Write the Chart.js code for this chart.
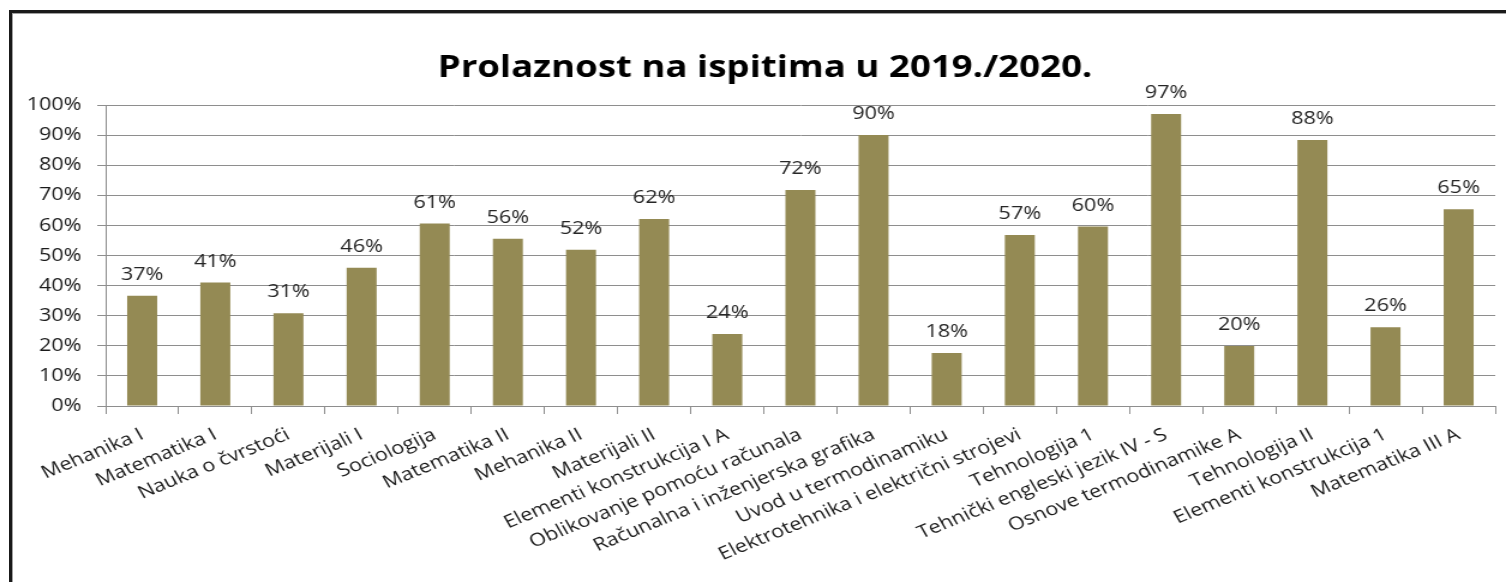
<!DOCTYPE html>
<html>
<head>
<meta charset="utf-8">
<script src="https://cdn.jsdelivr.net/npm/chart.js@4"></script>
<style>
html,body{margin:0;padding:0;background:#fff;overflow:hidden;}
#wrap{position:relative;width:1506px;height:582px;overflow:hidden;background:#fff;}
#stretch{position:absolute;left:0;top:0;width:1255px;height:582px;transform:scaleX(1.2);transform-origin:0 0;}
#frame{position:absolute;left:9px;top:10px;width:1520px;height:600px;border-left:3px solid #1a1a1a;border-top:3px solid #1a1a1a;pointer-events:none;}
#frame2{position:absolute;left:12px;top:13px;width:1520px;height:600px;border-left:1px solid #a0a0a0;border-top:1px solid #a0a0a0;pointer-events:none;}
</style>
</head>
<body>
<div id="wrap">
  <div id="stretch"><canvas id="c" width="1255" height="582"></canvas></div>
  <div id="frame"></div>
  <div id="frame2"></div>
</div>
<script>
const chartTitle = 'Prolaznost na ispitima u 2019./2020.';
const categories = ['Mehanika I','Matematika I','Nauka o čvrstoći','Materijali I','Sociologija','Matematika II','Mehanika II','Materijali II','Elementi konstrukcija I A','Oblikovanje pomoću računala','Računalna i inženjerska grafika','Uvod u termodinamiku','Elektrotehnika i električni strojevi','Tehnologija 1','Tehnički engleski jezik IV - S','Osnove termodinamike A','Tehnologija II','Elementi konstrukcija 1','Matematika III A'];
const passRate = [36.6, 41.0, 30.8, 45.9, 60.6, 55.6, 51.9, 62.1, 23.9, 71.8, 90.0, 17.6, 56.8, 59.6, 97.0, 19.9, 88.4, 26.2, 65.4];
const yTicks = [0,10,20,30,40,50,60,70,80,90,100];

const gridCol = '#8e8e8e';
const font = "'Open Sans', sans-serif";

const titlePlugin = {
  id:'titleText',
  afterDraw(chart){
    const ctx = chart.ctx;
    ctx.save();
    ctx.font = "bold 30.5px " + font;
    ctx.fillStyle = '#000';
    ctx.textAlign = 'center';
    ctx.textBaseline = 'alphabetic';
    ctx.fillText(chartTitle, 637.5, 77);
    ctx.restore();
  }
};

const valueLabels = {
  id:'valueLabels',
  afterDatasetsDraw(chart){
    const ctx = chart.ctx;
    const meta = chart.getDatasetMeta(0);
    ctx.save();
    ctx.font = "18px " + font;
    ctx.fillStyle = '#262626';
    ctx.textAlign = 'center';
    ctx.textBaseline = 'alphabetic';
    meta.data.forEach((bar,i)=>{
      ctx.fillText(Math.round(passRate[i]) + '%', bar.x, bar.y - 16);
    });
    ctx.restore();
  }
};

new Chart(document.getElementById('c'), {
  type:'bar',
  data:{
    labels: categories,
    datasets:[{
      data: passRate,
      backgroundColor:'#948A54',
      borderWidth:0,
      barPercentage:0.41,
      categoryPercentage:1.0
    }]
  },
  options:{
    responsive:false,
    animation:false,
    devicePixelRatio:1,
    layout:{padding:{left:0,right:9,top:105,bottom:0}},
    plugins:{
      legend:{display:false},
      tooltip:{enabled:false},
      title:{display:false}
    },
    scales:{
      x:{
        grid:{display:true,offset:true,drawOnChartArea:false,drawTicks:true,tickLength:8,color:gridCol},
        border:{display:true,color:gridCol,width:1},
        ticks:{autoSkip:false,minRotation:26,maxRotation:26,color:'#1a1a1a',font:{family:font,size:18},padding:10},
        afterFit(s){ s.height = 176; }
      },
      y:{
        min:0,max:100,
        afterBuildTicks(s){ s.ticks = yTicks.map(v=>({value:v})); },
        grid:{color:gridCol,tickLength:7,drawTicks:true},
        border:{display:true,color:gridCol,width:1},
        ticks:{color:'#1a1a1a',font:{family:font,size:18},padding:13,callback:v=>v+'%'},
        afterFit(s){ s.width = 88; }
      }
    }
  },
  plugins:[valueLabels,titlePlugin]
});
</script>
</body>
</html>
